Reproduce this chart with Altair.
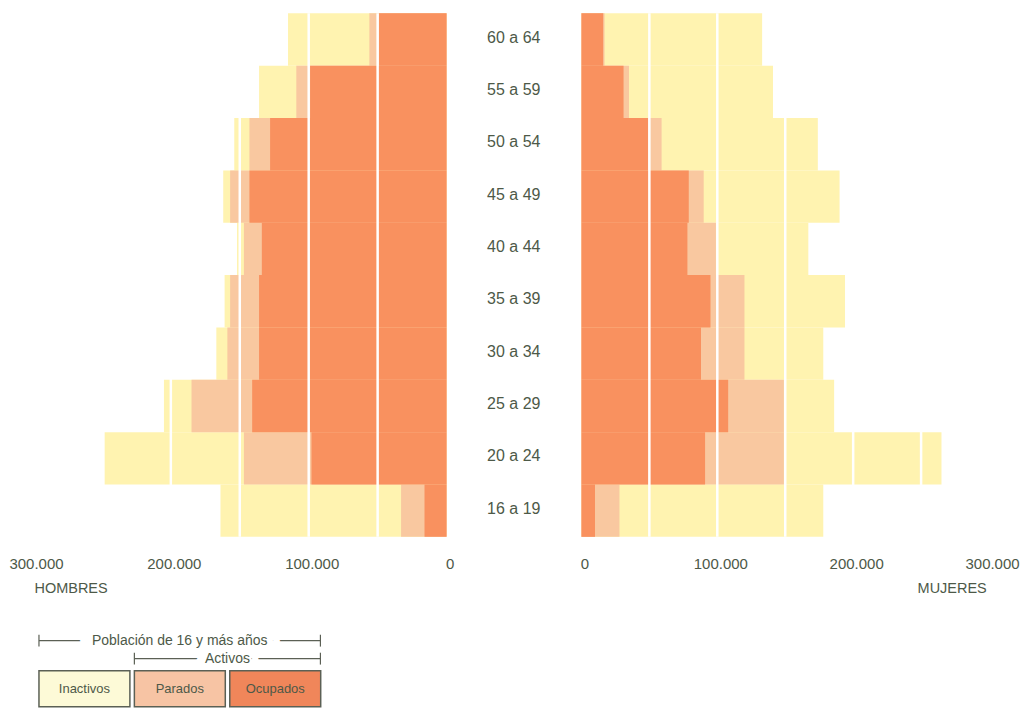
import altair as alt
import pandas as pd

# ---------------- data ----------------
ages = ["16 a 19", "20 a 24", "25 a 29", "30 a 34", "35 a 39",
        "40 a 44", "45 a 49", "50 a 54", "55 a 59", "60 a 64"]

hombres_poblacion = [164000, 248000, 205000, 167000, 161000, 152000, 162000, 154000, 136000, 115000]
hombres_activos = [33000, 147000, 185000, 159000, 157000, 147000, 157000, 143000, 109000, 56000]
hombres_ocupados = [16000, 98000, 141000, 136000, 136000, 134000, 143000, 128000, 99000, 49000]

mujeres_poblacion = [178000, 265000, 186000, 178000, 194000, 167000, 190000, 174000, 141000, 133000]
mujeres_activos = [28000, 149000, 149000, 120000, 120000, 99000, 90000, 59000, 35000, 17000]
mujeres_ocupados = [10000, 91000, 108000, 88000, 95000, 78000, 79000, 49000, 31000, 16000]

x_ticks = [0, 100000, 200000, 300000]
grid_values = [50000, 100000, 150000, 200000, 250000]

legend_items = ["Inactivos", "Parados", "Ocupados"]
brackets = ["Población de 16 y más años", "Activos"]
bracket_start = [0, 1]

# ---------------- styles ----------------
bar_colors = ["#FFF3B0", "#F9C8A0", "#F9915F"]
legend_fill = ["#FDFAD7", "#F7C4A4", "#F0865A"]
TXT = "#4d5948"
LINE = "#5b6055"
FONT = "Liberation Sans"
H = 524
order_top_down = list(reversed(ages))


def side_chart(pob, act, ocu, width, reverse, title, title_x):
    df = pd.DataFrame({
        "edad": ages * 3,
        "capa": [legend_items[0]] * len(ages) + [legend_items[1]] * len(ages) + [legend_items[2]] * len(ages),
        "valor": pob + act + ocu,
    })
    x_def = alt.X(
        "valor:Q",
        scale=alt.Scale(domain=[0, 300000], reverse=reverse, nice=False),
        axis=alt.Axis(
            values=x_ticks,
            labelExpr="replace(format(datum.value, ','), ',', '.')",
            grid=False, domain=False, ticks=False, tickSize=0,
            labelFlush=False, labelOffset=3, labelPadding=20,
            labelFontSize=15, labelColor=TXT, labelFont=FONT,
            title=title, titleX=title_x, titleY=56, titleAlign="left",
            titleBaseline="alphabetic", titleFontSize=14.5,
            titleFontWeight="normal", titleColor=TXT, titleFont=FONT,
        ),
    )
    y_def = alt.Y("edad:N", sort=order_top_down, axis=None,
                  scale=alt.Scale(paddingInner=0, paddingOuter=0))
    layers = []
    for name, col in zip(legend_items, bar_colors):
        layers.append(
            alt.Chart(df).transform_filter(alt.datum.capa == name)
            .mark_bar(color=col).encode(x=x_def, y=y_def)
        )
    grid = alt.Chart(pd.DataFrame({"valor": grid_values})).mark_rule(
        color="white", strokeWidth=2.5).encode(x=x_def)
    layers.append(grid)
    return alt.layer(*layers)


# ---------------- legend (drawn below the left panel) ----------------
n = len(legend_items)
box_df = pd.DataFrame({
    "item": legend_items,
    "i": list(range(n)),
})
box_df["x0"] = box_df["i"]
box_df["x1"] = box_df["i"] + 0.953
box_df["mid"] = box_df["i"] + 0.4765
box_df["y0"] = 0
box_df["y1"] = 2
box_df["ym"] = 1

br_df = pd.DataFrame({"label": brackets, "start": bracket_start})
br_df["end"] = n - 0.05
br_df["k"] = list(range(len(brackets)))
br_df["level"] = 3.67 - br_df["k"]
br_df["mid"] = (br_df["start"] + br_df["end"]) / 2
br_df["lo"] = br_df["level"] - 0.33
br_df["hi"] = br_df["level"] + 0.33

tick_df = pd.concat([
    br_df[["label", "lo", "hi"]].assign(pos=br_df["start"]),
    br_df[["label", "lo", "hi"]].assign(pos=br_df["end"]),
])

lx = alt.Scale(domain=[0, n], range=[6, 292.5])
ly = alt.Scale(domain=[0, 4], range=[694, 622])


def X(f):
    return alt.X(f, scale=lx, axis=None)


def Y(f):
    return alt.Y(f, scale=ly, axis=None)


def br_layers(k, halo):
    d = br_df[br_df["k"] == k]
    rule = alt.Chart(d).mark_rule(color=LINE, strokeWidth=1.2).encode(
        x=X("start:Q"), x2="end:Q", y=Y("level:Q"))
    halo_l = alt.Chart(d).mark_text(
        fontSize=14, font=FONT, color="white", stroke="white",
        strokeWidth=halo, strokeJoin="round", strokeCap="round"
    ).encode(x=X("mid:Q"), y=Y("level:Q"), text="label:N")
    txt = alt.Chart(d).mark_text(fontSize=14, font=FONT, color=TXT).encode(
        x=X("mid:Q"), y=Y("level:Q"), text="label:N")
    return rule, halo_l, txt


r0, h0, t0 = br_layers(0, 26)
r1, h1, t1 = br_layers(1, 18)

boxes = alt.Chart(box_df).mark_rect(stroke=LINE, strokeWidth=1.5).encode(
    x=X("x0:Q"), x2="x1:Q", y=Y("y0:Q"), y2="y1:Q",
    color=alt.Color("item:N", scale=alt.Scale(domain=legend_items, range=legend_fill), legend=None),
)
box_txt = alt.Chart(box_df).mark_text(fontSize=13, font=FONT, color=TXT).encode(
    x=X("mid:Q"), y=Y("ym:Q"), text="item:N")
ticks = alt.Chart(tick_df).mark_rule(color=LINE, strokeWidth=1.2).encode(
    x=X("pos:Q"), y=Y("lo:Q"), y2="hi:Q")

legend = alt.layer(r0, h0, r1, h1, boxes, box_txt, ticks, t0, t1)

left = alt.layer(
    side_chart(hombres_poblacion, hombres_activos, hombres_ocupados,
               414, True, "HOMBRES", 1),
    legend,
).resolve_scale(x="independent", y="independent", color="independent").properties(width=414, height=H)

right = side_chart(mujeres_poblacion, mujeres_activos, mujeres_ocupados,
                   408, False, "MUJERES", 336).properties(width=408, height=H)

middle = alt.Chart(pd.DataFrame({"edad": ages})).mark_text(
    fontSize=16, color=TXT, font=FONT, dy=-2
).encode(
    y=alt.Y("edad:N", sort=order_top_down, axis=None,
            scale=alt.Scale(paddingInner=0, paddingOuter=0)),
    text="edad:N",
).properties(width=134.5, height=H)

chart = alt.hconcat(left, middle, right, spacing=0, bounds="flush").properties(
    padding={"left": 0, "top": 3, "right": 0, "bottom": 0}
).configure_view(stroke=None)

chart.save("out.html", embed_options={"renderer": "svg", "actions": False})
